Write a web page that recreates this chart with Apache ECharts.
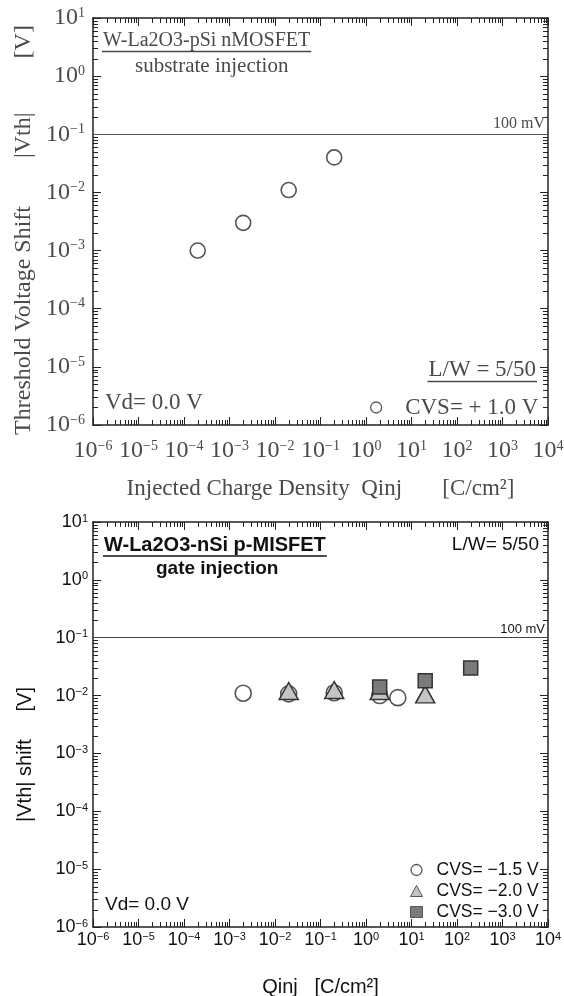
<!DOCTYPE html>
<html><head><meta charset="utf-8">
<script src="https://cdn.jsdelivr.net/npm/echarts@6/dist/echarts.min.js"></script>
<style>html,body{margin:0;padding:0;background:#fff}#c{width:564px;height:996px}</style>
</head><body><div id="c"></div>
<script>
// ---------- data ----------
const xMin = 1e-6, xMax = 1e4;
const yMin = 1e-6, yMax = 1e1;
// top panel: W-La2O3-pSi nMOSFET, substrate injection, CVS = +1.0 V
const topQinj = [2e-4, 2e-3, 2e-2, 2e-1];
const topVth  = [1.0e-3, 3.0e-3, 1.1e-2, 4.0e-2];
// bottom panel: W-La2O3-nSi p-MISFET, gate injection
const cvs15Qinj = [2e-3, 2e-2, 2e-1, 2, 5];
const cvs15Vth  = [1.1e-2, 1.07e-2, 1.12e-2, 1.0e-2, 9.2e-3];
const cvs20Qinj = [2e-2, 2e-1, 2, 20];
const cvs20Vth  = [1.2e-2, 1.25e-2, 1.2e-2, 1.05e-2];
const cvs30Qinj = [2, 20, 200];
const cvs30Vth  = [1.4e-2, 1.8e-2, 3.0e-2];
const refLine = 0.1; // 100 mV
const topLegend = ['CVS= + 1.0 V'];
const botLegend = ['CVS= \u22121.5 V', 'CVS= \u22122.0 V', 'CVS= \u22123.0 V'];

const zip = (a, b) => a.map((v, i) => [v, b[i]]);
const serif = '"Liberation Serif", "DejaVu Serif", serif';
const sans = '"Liberation Sans", Arial, sans-serif';
const gTop = '#4a4a4a', gBot = '#111';

function expLabel(v) {
  const e = Math.round(Math.log10(v));
  return '{b|10}{s|' + (e < 0 ? '\u2212' + (-e) : String(e)) + '}';
}
function rich(fam, bs, ss, color) {
  return {
    b: {fontFamily: fam, fontSize: bs, lineHeight: bs, color: color},
    s: {fontFamily: fam, fontSize: ss, lineHeight: ss, color: color, verticalAlign: 'top'}
  };
}
function axis(grid, pos, min, max, label) {
  const a = {
    type: 'log', logBase: 10, gridIndex: grid, position: pos, min: min, max: max, interval: 1,
    axisLine: {show: true, onZero: false, lineStyle: {color: '#222', width: 1.5}},
    axisTick: {show: true, inside: true, length: 8, lineStyle: {color: '#222', width: 1}},
    minorTick: {show: false}, splitLine: {show: false}, minorSplitLine: {show: false},
    axisLabel: {show: false}, axisPointer: {show: false}
  };
  if (label) Object.assign(a, label);
  return a;
}

const ctx = document.createElement('canvas').getContext('2d');
function tw(text, font) { ctx.font = font; return ctx.measureText(text).width; }
function txt(text, x, y, font, fill, align) {
  return {type: 'text', x: x, y: y, silent: true,
    style: {text: text, font: font, fill: fill, align: align || 'left', verticalAlign: 'middle',
            textAlign: align || 'left', textVerticalAlign: 'middle'}};
}
function seg(x1, y1, x2, y2, color, w) {
  return {type: 'line', silent: true, shape: {x1: x1, y1: y1, x2: x2, y2: y2}, style: {stroke: color, lineWidth: w}};
}

const fTitle1 = '20px ' + serif;
const fLW1 = '23px ' + serif;
const fTitle2 = 'bold 20px ' + sans;
const t1 = 'W-La2O3-pSi nMOSFET', t2 = 'W-La2O3-nSi p-MISFET', lw1 = 'L/W = 5/50';

const graphics = [
  txt(t1, 103, 41, fTitle1, gTop),
  seg(102, 51.5, 104 + tw(t1, fTitle1), 51.5, gTop, 1.3),
  txt('substrate injection', 135, 66, '21px ' + serif, gTop),
  txt(lw1, 536, 370, fLW1, gTop, 'right'),
  seg(535 - tw(lw1, fLW1), 381.5, 537, 381.5, gTop, 1.3),
  txt('Vd= 0.0 V', 105, 403, '23px ' + serif, gTop),
  txt(t2, 104, 545, fTitle2, gBot),
  seg(103, 556, 105 + tw(t2, fTitle2), 556, gBot, 1.3),
  txt('gate injection', 156, 569, 'bold 19px ' + sans, gBot),
  txt('L/W= 5/50', 539, 545, '19px ' + sans, gBot, 'right'),
  txt('Vd= 0.0 V', 105, 905, '19px ' + sans, gBot)
];

const option = {
  animation: false,
  backgroundColor: '#fff',
  grid: [
    {left: 93, top: 18, width: 455, height: 407, containLabel: false, outerBoundsMode: 'none'},
    {left: 93, top: 522, width: 455, height: 405, containLabel: false, outerBoundsMode: 'none'}
  ],
  xAxis: [
    axis(0, 'bottom', xMin, xMax, {
      axisLabel: {show: true, margin: 14, formatter: expLabel, rich: rich(serif, 24, 14, gTop)},
      name: 'Injected Charge Density  Qinj       [C/cm\u00b2]', nameLocation: 'middle', nameGap: 52,
      nameTextStyle: {fontFamily: serif, fontSize: 23, color: gTop}
    }),
    axis(0, 'top', xMin, xMax),
    axis(1, 'bottom', xMin, xMax, {
      axisLabel: {show: true, margin: 4, formatter: expLabel, rich: rich(sans, 18, 11, gBot)},
      name: 'Qinj   [C/cm\u00b2]', nameLocation: 'middle', nameGap: 50,
      nameTextStyle: {fontFamily: sans, fontSize: 20, color: gBot}
    }),
    axis(1, 'top', xMin, xMax)
  ],
  yAxis: [
    axis(0, 'left', yMin, yMax, {
      axisLabel: {show: true, margin: 8, formatter: expLabel, rich: rich(serif, 24, 14, gTop)},
      name: 'Threshold Voltage Shift        |Vth|         [V]', nameLocation: 'middle', nameGap: 57,
      nameTextStyle: {fontFamily: serif, fontSize: 24, color: gTop, padding: [0, 17, 0, 0]}
    }),
    axis(0, 'right', yMin, yMax),
    axis(1, 'left', yMin, yMax, {
      axisLabel: {show: true, margin: 5, formatter: expLabel, rich: rich(sans, 18, 11, gBot)},
      name: '|Vth| shift     [V]', nameLocation: 'middle', nameGap: 58,
      nameTextStyle: {fontFamily: sans, fontSize: 20, color: gBot, padding: [0, 60, 0, 0]}
    }),
    axis(1, 'right', yMin, yMax)
  ],
  legend: [
    {data: [{name: topLegend[0], icon: 'circle', itemStyle: {color: '#fff', borderColor: '#555', borderWidth: 1.3}}],
     left: 365, top: 391, itemWidth: 12, itemHeight: 11, selectedMode: false,
     textStyle: {fontFamily: serif, fontSize: 23, color: gTop, lineHeight: 22, padding: [0, 0, 0, 18]}},
    {data: [
        {name: botLegend[0], icon: 'circle', itemStyle: {color: '#fff', borderColor: '#555', borderWidth: 1.3}},
        {name: botLegend[1], icon: 'triangle', itemStyle: {color: '#c4c4c4', borderColor: '#555', borderWidth: 1}},
        {name: botLegend[2], icon: 'rect', itemStyle: {color: '#7a7a7a', borderColor: '#555', borderWidth: 1}}],
     orient: 'vertical', left: 405, top: 855, itemWidth: 12, itemHeight: 11, itemGap: 1, selectedMode: false,
     textStyle: {fontFamily: sans, fontSize: 17.5, color: gBot, lineHeight: 20, padding: [0, 0, 0, 9]}}
  ],
  series: [
    {name: topLegend[0], type: 'scatter', xAxisIndex: 0, yAxisIndex: 0, data: zip(topQinj, topVth),
     symbol: 'circle', symbolSize: 15, itemStyle: {color: '#fff', borderColor: '#555', borderWidth: 1.6, opacity: 1},
     markLine: {silent: true, symbol: ['none', 'none'], animation: false,
       lineStyle: {color: '#555', width: 1.2, type: 'solid'},
       label: {show: true, position: 'insideEndTop', formatter: '100 mV', fontFamily: serif, fontSize: 16, color: gTop, distance: [3, 2]},
       data: [{yAxis: refLine}]}},
    {name: botLegend[0], type: 'scatter', xAxisIndex: 2, yAxisIndex: 2, data: zip(cvs15Qinj, cvs15Vth),
     symbol: 'circle', symbolSize: 16, itemStyle: {color: '#fff', borderColor: '#555', borderWidth: 1.6, opacity: 1},
     markLine: {silent: true, symbol: ['none', 'none'], animation: false,
       lineStyle: {color: '#444', width: 1.2, type: 'solid'},
       label: {show: true, position: 'insideEndTop', formatter: '100 mV', fontFamily: sans, fontSize: 13, color: gBot, distance: [3, 2]},
       data: [{yAxis: refLine}]}},
    {name: botLegend[1], type: 'scatter', xAxisIndex: 2, yAxisIndex: 2, data: zip(cvs20Qinj, cvs20Vth),
     symbol: 'triangle', symbolSize: [19, 17], itemStyle: {color: '#c4c4c4', borderColor: '#333', borderWidth: 1.5, opacity: 1}},
    {name: botLegend[2], type: 'scatter', xAxisIndex: 2, yAxisIndex: 2, data: zip(cvs30Qinj, cvs30Vth),
     symbol: 'rect', symbolSize: 14, itemStyle: {color: '#7a7a7a', borderColor: '#333', borderWidth: 1.5, opacity: 1}}
  ],
  graphic: graphics
};
const chart = echarts.init(document.getElementById('c'), null, {renderer: 'canvas'});
chart.setOption(option);

// log-style minor ticks (2..9 within each decade), placed through the chart's own axis scales
function minorTickGraphics(xi, yi) {
  const out = [];
  const px = v => chart.convertToPixel({xAxisIndex: xi}, v);
  const py = v => chart.convertToPixel({yAxisIndex: yi}, v);
  const L = px(xMin), R = px(xMax), B = py(yMin), T = py(yMax);
  const len = 5;
  for (let e = Math.round(Math.log10(xMin)); e < Math.round(Math.log10(xMax)); e++) {
    for (let k = 2; k <= 9; k++) {
      const x = Math.round(px(k * Math.pow(10, e))) + 0.5;
      out.push(seg(x, B, x, B - len, '#222', 1));
      out.push(seg(x, T, x, T + len, '#222', 1));
    }
  }
  for (let e = Math.round(Math.log10(yMin)); e < Math.round(Math.log10(yMax)); e++) {
    for (let k = 2; k <= 9; k++) {
      const y = Math.round(py(k * Math.pow(10, e))) + 0.5;
      out.push(seg(L, y, L + len, y, '#222', 1));
      out.push(seg(R, y, R - len, y, '#222', 1));
    }
  }
  return out;
}
chart.setOption({graphic: graphics.concat(minorTickGraphics(0, 0), minorTickGraphics(2, 2))});
</script>
</body></html>
